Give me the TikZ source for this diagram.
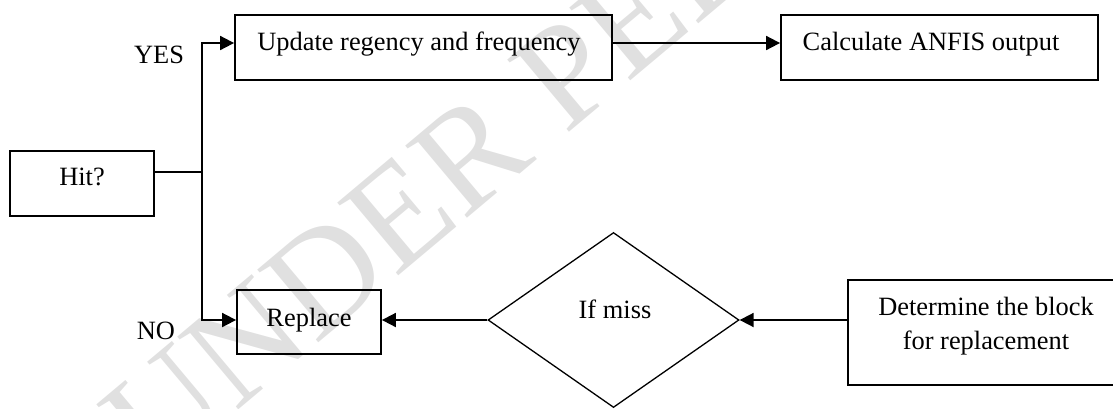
\documentclass[tikz,border=0pt]{standalone}
\usepackage{fontspec}
\setmainfont{Liberation Serif}
\usetikzlibrary{arrows.meta,shapes.geometric}
\tikzset{
  box/.style={draw=black, line width=1.8pt, rectangle, inner sep=0pt},
  dia/.style={draw=black, line width=1.3pt, diamond, inner sep=0pt, minimum width=251pt, minimum height=175pt},
  txt/.style={inner sep=0pt, font=\fontsize{26.4}{34}\selectfont, anchor=base},
  conn/.style={line width=1.8pt},
  arr/.style={line width=1.8pt, -{Triangle[length=14pt,width=14pt]}},
  wm/.style={inner sep=0pt, font=\fontsize{145}{150}\selectfont, text=black!12, anchor=base west}
}
\begin{document}
\begin{tikzpicture}[x=1pt,y=1pt]
\useasboundingbox (0,0) rectangle (1113,-408);
% watermark
\node[wm, rotate=40] (wmark) at (155,-480) {UNDER PEER REVIEW};
% boxes
\node[box, minimum width=377pt, minimum height=65pt] (upd) at (423.5,-47.5) {};
\node[box, minimum width=317pt, minimum height=65pt] (calc) at (939.5,-47.5) {};
\node[box, minimum width=144pt, minimum height=65pt] (hit) at (82,-183.5) {};
\node[box, minimum width=144pt, minimum height=64pt] (rep) at (309,-322) {};
\node[dia] (ifm) at (613.5,-320) {};
\node[box, minimum width=277pt, minimum height=105pt] (det) at (986.5,-332.5) {};
% texts
\node[txt] (updt) at (419,-50) {Update regency and frequency};
\node[txt] (calct) at (931,-50) {Calculate ANFIS output};
\node[txt] (yes) at (159,-63) {YES};
\node[txt] (hitt) at (82,-185) {Hit?};
\node[txt] (no) at (156,-339) {NO};
\node[txt] (rept) at (309,-326) {Replace};
\node[txt] (ifmt) at (615,-318) {If miss};
\node[txt, anchor=center, align=center] (dett) at (986,-326) {Determine the block\\for replacement};
% connectors
\coordinate (j) at (202,-172);
\coordinate (yy) at (0,-43);
\draw[conn] (j -| hit.east) -- (j);
\draw[arr] (j) |- (yy -| upd.west);
\draw[arr] (j) |- (ifm.west -| rep.west);
\draw[arr] (yy -| upd.east) -- (yy -| calc.west);
\draw[arr] (ifm.west) -- (ifm.west -| rep.east);
\draw[arr] (ifm.east -| det.west) -- (ifm.east);
\end{tikzpicture}
\end{document}
